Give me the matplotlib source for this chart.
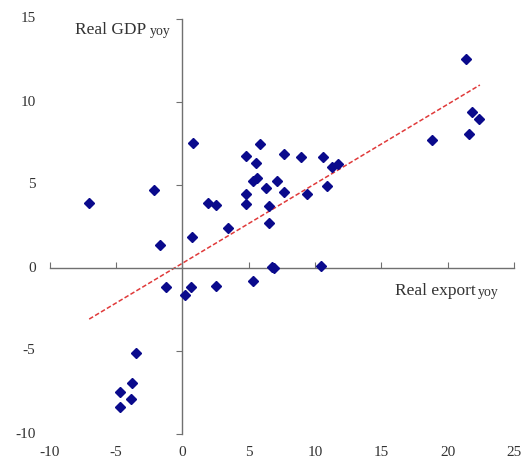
import matplotlib
matplotlib.use("Agg")
import matplotlib.pyplot as plt
import matplotlib.transforms as mtransforms

# Data
export_yoy = [-7.01, -2.12, -1.64, -1.19, 0.83, 0.76, 0.68, 0.23, 1.92, 2.57,
              2.52, 3.46, 4.84, 4.79, 4.79, 5.58, 5.85, 5.37, 5.65, 6.28,
              6.54, 6.54, 7.14, 7.65, 7.65, 5.32, 6.80, 6.95, 8.93, 9.44,
              10.60, 10.88, 11.28, 11.71, 10.47, 18.85, 21.40, 21.60, 21.85, 22.33,
              -3.51, -3.79, -4.72, -3.89, -4.72]
gdp_yoy = [3.89, 4.70, 1.39, -1.13, 7.52, 1.85, -1.17, -1.63, 3.93, 3.79,
           -1.07, 2.38, 6.77, 4.44, 3.87, 6.35, 7.48, 5.24, 5.44, 4.82,
           3.71, 2.70, 5.24, 6.88, 4.60, -0.77, 0.05, 0.00, 6.71, 4.48,
           6.71, 4.96, 6.11, 6.27, 0.12, 7.70, 12.58, 8.06, 9.42, 8.97,
           -5.14, -6.90, -7.48, -7.88, -8.39]
trend_slope = 0.479
trend_intercept = 0.28
trend_x_range = [-7.01, 22.43]

x_ticks = [-10, -5, 0, 5, 10, 15, 20, 25]
y_ticks = [-10, -5, 0, 5, 10, 15]

plt.rcParams['font.family'] = ['Liberation Serif', 'DejaVu Serif']

fig = plt.figure(figsize=(5.25, 4.58), dpi=100)
ax = fig.add_axes([49.5 / 525, 1 - 434 / 458, (514 - 49.5) / 525, (434 - 19) / 458])

ax.set_xlim(-10, 25)
ax.set_ylim(-10, 15)

axis_color = '#707070'
for s in ['top', 'right']:
    ax.spines[s].set_visible(False)
ax.spines['left'].set_position(('data', 0))
ax.spines['bottom'].set_position(('data', 0))
for s in ['left', 'bottom']:
    ax.spines[s].set_color(axis_color)
    ax.spines[s].set_linewidth(1.0)

ax.set_xticks(x_ticks)
ax.set_yticks(y_ticks)
ax.tick_params(axis='x', direction='in', length=4, color=axis_color, labelbottom=False)
ax.tick_params(axis='y', direction='out', length=4, color=axis_color, labelleft=False)

# Tick labels at the figure edges
tx = mtransforms.blended_transform_factory(ax.transData, ax.transAxes)
for t in x_ticks:
    ax.text(t, -0.045, str(t), transform=tx, ha='center', va='center',
            fontsize=11, color='#333333', clip_on=False)
ty = mtransforms.blended_transform_factory(ax.transAxes, ax.transData)
for t in y_ticks:
    ax.text(-0.03, t, str(t), transform=ty, ha='right', va='center',
            fontsize=11, color='#333333', clip_on=False)

# Trend line
tl_y = [trend_slope * x + trend_intercept for x in trend_x_range]
ax.plot(trend_x_range, tl_y, linestyle=(0, (3, 1.5)), color='#e03a3a', linewidth=1.1, zorder=2)

# Scatter points
ax.plot(export_yoy, gdp_yoy, linestyle='none', marker='D', markersize=5.2,
        color='#0a0a8c', zorder=3)

# Axis labels
t1 = ax.text(-8.1, 14.1, 'Real GDP', fontsize=12.5, color='#333333', ha='left', va='baseline')
ax.annotate('yoy', xy=(1, 0), xycoords=t1, xytext=(3, 0), textcoords='offset points',
            fontsize=10, color='#333333', ha='left', va='bottom')
t2 = ax.text(16.0, -1.65, 'Real export', fontsize=12.5, color='#333333', ha='left', va='baseline')
ax.annotate('yoy', xy=(1, 0), xycoords=t2, xytext=(2, 0), textcoords='offset points',
            fontsize=10, color='#333333', ha='left', va='bottom')

fig.savefig('out.png', dpi=100)
